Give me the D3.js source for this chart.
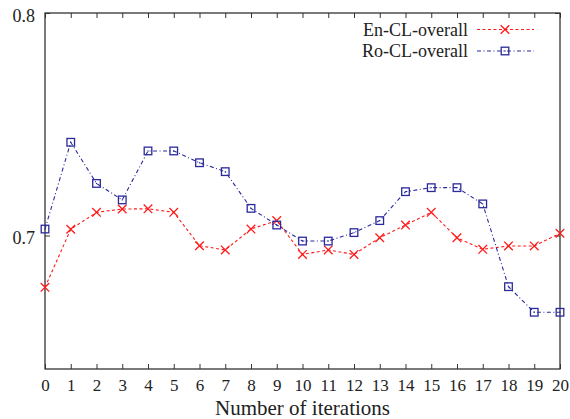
<!DOCTYPE html>
<html>
<head>
<meta charset="utf-8">
<script src="https://cdn.jsdelivr.net/npm/d3@7"></script>
<style>
	body { margin: 0; background: #fff; }
	svg text { font-family: "Liberation Serif", "Times New Roman", serif; fill: #222; }
</style>
</head>
<body>
<svg id="chart" width="570" height="419"></svg>
<script>
const iterations = d3.range(0, 21);
const enOverall = [0.6767, 0.7028, 0.7104, 0.7119, 0.7120, 0.7104, 0.6954, 0.6935, 0.7029, 0.7067, 0.6915,
	0.6935, 0.6915, 0.6990, 0.7047, 0.7104, 0.6990, 0.6938, 0.6953, 0.6953, 0.7010];
const roOverall = [0.7029, 0.7419, 0.7234, 0.7160, 0.7380, 0.7380, 0.7327, 0.7287, 0.7122, 0.7047, 0.6975,
	0.6975, 0.7013, 0.7067, 0.7197, 0.7215, 0.7215, 0.7142, 0.6770, 0.6655, 0.6655];
const yTicks = [0.7, 0.8];
const seriesNames = ["En-CL-overall", "Ro-CL-overall"];

const svg = d3.select("#chart");
const margin = { left: 45, right: 10, top: 13, bottom: 50 };
const width = +svg.attr("width"), height = +svg.attr("height");
const x0 = margin.left, x1 = width - margin.right;
const y0 = height - margin.bottom, y1 = margin.top;

const x = d3.scaleLinear().domain([0, 20]).range([x0, x1]);
const y = d3.scaleLinear().domain([0.64, 0.8]).range([y0, y1]);

const red = "#ff1a1a", blue = "#2a2a9c";
const serif = "'Liberation Serif', 'Times New Roman', serif";

// frame
svg.append("rect")
	.attr("x", x0).attr("y", y1)
	.attr("width", x1 - x0).attr("height", y0 - y1)
	.attr("fill", "none").attr("stroke", "#222").attr("stroke-width", 1.2);

// bottom axis with inward ticks
const xAxis = svg.append("g").attr("transform", `translate(0,${y0})`)
	.call(d3.axisBottom(x).tickValues(iterations).tickSize(-5).tickPadding(10).tickFormat(d3.format("d")));
xAxis.attr("font-family", serif).attr("font-size", 17);
xAxis.select(".domain").remove();
xAxis.selectAll("line").attr("stroke", "#333");
xAxis.selectAll("text").attr("fill", "#222");

// top mirror ticks
const xTop = svg.append("g").attr("transform", `translate(0,${y1})`)
	.call(d3.axisTop(x).tickValues(iterations).tickSize(-5).tickFormat(""));
xTop.select(".domain").remove();
xTop.selectAll("line").attr("stroke", "#333");

// left axis
const yAxis = svg.append("g").attr("transform", `translate(${x0},0)`)
	.call(d3.axisLeft(y).tickValues(yTicks).tickSize(-5).tickPadding(10).tickFormat(d3.format(".1f")));
yAxis.attr("font-family", serif).attr("font-size", 18);
yAxis.select(".domain").remove();
yAxis.selectAll("line").attr("stroke", "#333");
yAxis.selectAll("text").attr("fill", "#222").attr("dy", "0.45em");

const yRight = svg.append("g").attr("transform", `translate(${x1},0)`)
	.call(d3.axisRight(y).tickValues(yTicks).tickSize(-5).tickFormat(""));
yRight.select(".domain").remove();
yRight.selectAll("line").attr("stroke", "#333");

// axis title
svg.append("text")
	.attr("x", (x0 + x1) / 2).attr("y", 415)
	.attr("text-anchor", "middle")
	.style("font-size", "21px")
	.text("Number of iterations");

const line = d3.line().x((d, i) => x(iterations[i])).y(d => y(d));

function crossPath(cx, cy, r) {
	return `M${cx - r},${cy - r}L${cx + r},${cy + r}M${cx - r},${cy + r}L${cx + r},${cy - r}`;
}

function drawCross(g, cx, cy) {
	g.append("path").attr("d", crossPath(cx, cy, 4.3))
		.attr("stroke", red).attr("stroke-width", 1.3).attr("fill", "none");
}

function drawBox(g, cx, cy) {
	g.append("rect").attr("x", cx - 3.8).attr("y", cy - 3.8).attr("width", 7.6).attr("height", 7.6)
		.attr("fill", "none").attr("stroke", blue).attr("stroke-width", 1.3);
	g.append("circle").attr("cx", cx).attr("cy", cy).attr("r", 0.7).attr("fill", blue);
}

// En series
svg.append("path").datum(enOverall)
	.attr("d", line).attr("fill", "none")
	.attr("stroke", red).attr("stroke-width", 1.1).attr("stroke-dasharray", "3,2.5");

// Ro series
svg.append("path").datum(roOverall)
	.attr("d", line).attr("fill", "none")
	.attr("stroke", blue).attr("stroke-width", 1.1).attr("stroke-dasharray", "4,2.5,1,2.5");

const marks = svg.append("g");
enOverall.forEach((v, i) => drawCross(marks, x(iterations[i]), y(v)));
roOverall.forEach((v, i) => drawBox(marks, x(iterations[i]), y(v)));

// legend
const legend = svg.append("g");
const rows = [
	{ name: seriesNames[0], color: red, dash: "3,2.5", mark: drawCross, ly: 29.5 },
	{ name: seriesNames[1], color: blue, dash: "4,2.5,1,2.5", mark: drawBox, ly: 51 }
];
rows.forEach(r => {
	legend.append("text").attr("x", 468).attr("y", r.ly).attr("dy", "0.35em")
		.attr("text-anchor", "end").style("font-size", "18px").text(r.name);
	legend.append("line").attr("x1", 477).attr("x2", 534).attr("y1", r.ly).attr("y2", r.ly)
		.attr("stroke", r.color).attr("stroke-width", 1.1).attr("stroke-dasharray", r.dash);
	r.mark(legend, 505, r.ly);
});
</script>
</body>
</html>
